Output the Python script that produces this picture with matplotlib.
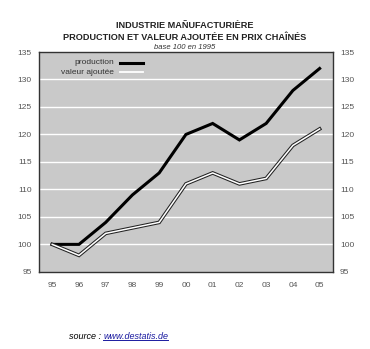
import matplotlib
matplotlib.use("Agg")
import matplotlib.pyplot as plt
from matplotlib import font_manager

years = ["95", "96", "97", "98", "99", "00", "01", "02", "03", "04", "05"]
production = [100, 100, 104, 109, 113, 120, 122, 119, 122, 128, 132]
valeur_ajoutee = [100, 98, 102, 103, 104, 111, 113, 111, 112, 118, 121]
yticks = [95, 100, 105, 110, 115, 120, 125, 130, 135]

names = {f.name for f in font_manager.fontManager.ttflist}
narrow = "Liberation Sans Narrow" if "Liberation Sans Narrow" in names else None
base = "Liberation Sans"
plt.rcParams['font.family'] = [base, 'DejaVu Sans']
title_family = [narrow, 'DejaVu Sans'] if narrow else [base, 'DejaVu Sans']
title_size = 8 if narrow else 6.6

fig = plt.figure(figsize=(3.70, 3.49), dpi=100)
ax = fig.add_axes([0.105, 0.221, 0.795, 0.630])
ax.set_facecolor("#c9c9c9")
x = list(range(len(years)))

for y in yticks[1:-1]:
    ax.axhline(y, color="white", lw=1.0, zorder=1)

ax.plot(x, production, color="black", lw=2.2, zorder=3, solid_joinstyle="miter")
ax.plot(x, valeur_ajoutee, color="#222222", lw=2.6, zorder=3, solid_joinstyle="miter")
ax.plot(x, valeur_ajoutee, color="white", lw=1.1, zorder=4, solid_joinstyle="miter")

ax.set_xlim(-0.5, 10.5)
ax.set_ylim(95, 135)
ax.set_xticks(x)
ax.set_xticklabels(years)
ax.set_yticks(yticks)
ax.tick_params(axis="both", length=0, labelsize=6, colors="#555555")
ax.tick_params(axis="x", pad=7)
ax.tick_params(axis="y", pad=5)
ax.tick_params(axis="y", labelright=True, right=False)
for s in ax.spines.values():
    s.set_color("#333333")
    s.set_linewidth(1.0)

# legend
ax.text(0.255, 0.95, "production", transform=ax.transAxes, ha="right", va="center",
        fontsize=6, color="#333333")
ax.text(0.255, 0.907, "valeur ajoutée", transform=ax.transAxes, ha="right", va="center",
        fontsize=6, color="#333333")
ax.plot([0.275, 0.355], [0.95, 0.95], transform=ax.transAxes, color="black", lw=2.2)
ax.plot([0.275, 0.355], [0.907, 0.907], transform=ax.transAxes, color="white", lw=1.3)

fig.text(0.5, 0.928, "INDUSTRIE MAÑUFACTURIÈRE", ha="center", va="center",
         fontsize=title_size, fontweight="bold", color="#222222", family=title_family)
fig.text(0.5, 0.893, "PRODUCTION ET VALEUR AJOUTÉE EN PRIX CHAÎNÉS", ha="center", va="center",
         fontsize=title_size, fontweight="bold", color="#222222", family=title_family)
fig.text(0.5, 0.865, "base 100 en 1995", ha="center", va="center",
         fontsize=5.5, style="italic", color="#333333")

t1 = fig.text(0.186, 0.037, "source : ", ha="left", va="center", fontsize=6.5,
              style="italic", color="black")
ax.annotate("www.destatis.de", xy=(1.0, 0.5), xycoords=t1, ha="left", va="center",
            fontsize=6.5, style="italic", color="#1a1aa0", annotation_clip=False)
fig.add_artist(plt.Line2D([0.279, 0.455], [0.025, 0.025], color="#1a1aa0", lw=0.7))

fig.savefig("out.png", dpi=100, facecolor="white")
